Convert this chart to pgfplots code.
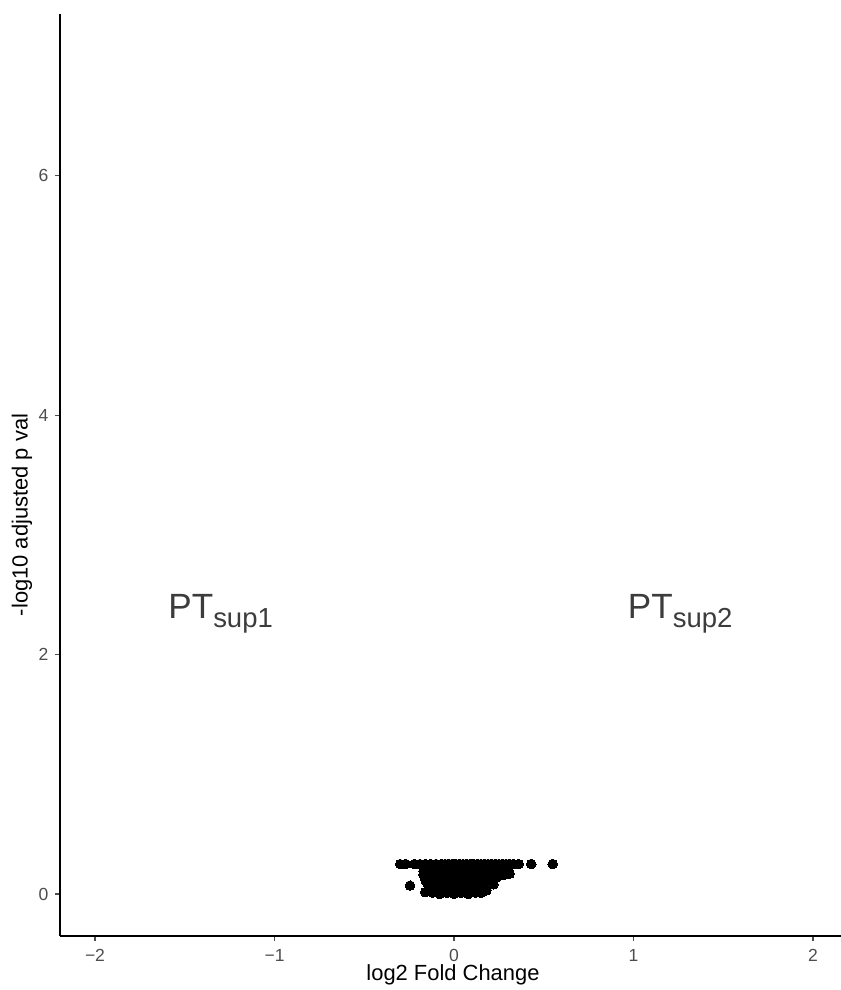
\documentclass[border=0pt]{standalone}
\usepackage{pgfplots}
\pgfplotsset{compat=1.18}
\usepackage{fontspec}
\setmainfont{Liberation Sans}
\definecolor{tickgray}{RGB}{77,77,77}
\definecolor{annogray}{RGB}{60,60,60}
\begin{document}
\begin{tikzpicture}[x=0.5bp,y=0.5bp]
\useasboundingbox (0,0) rectangle (841,990);
\begin{axis}[
  at={(30bp,27bp)}, anchor=south west,
  scale only axis, width=390.5bp, height=461bp,
  xmin=-2.195, xmax=2.156, ymin=-0.351, ymax=7.35,
  axis x line=bottom, axis y line=left,
  axis line style={line width=1bp,-},
  xtick={-2,-1,0,1,2}, xticklabels={−2,−1,0,1,2},
  ytick={0,2,4,6}, yticklabels={0,2,4,6},
  tick align=outside, major tick length=2.3bp,
  tick style={line width=0.55bp, color=tickgray},
  ticklabel style={font=\fontsize{8.8}{10}\selectfont, text=tickgray},
  xticklabel style={yshift=-1bp},
  clip=false,
]
\addplot[only marks, mark=*, mark size=2.4bp, mark options={fill=black, draw=black, line width=0pt}] coordinates {
(-0.30,0.25) (-0.27,0.25) (-0.22,0.25) (-0.19,0.25) (-0.16,0.25) (-0.13,0.25) (-0.10,0.25) (-0.07,0.25) (-0.05,0.25) (-0.03,0.25) (-0.01,0.25) (0.01,0.25) (0.03,0.25) (0.05,0.25) (0.07,0.25) (0.09,0.25) (0.11,0.25) (0.13,0.25) (0.15,0.25) (0.17,0.25) (0.19,0.25) (0.21,0.25) (0.23,0.25) (0.25,0.25) (0.27,0.25) (0.29,0.25) (0.31,0.25) (0.33,0.25) (0.36,0.25) (0.43,0.25) (0.55,0.25)
(-0.16,0.22) (-0.11,0.22) (-0.06,0.22) (-0.02,0.22) (0.04,0.22) (0.09,0.22) (0.14,0.22) (0.19,0.22) (0.25,0.22) (0.30,0.22)
(-0.17,0.19) (-0.13,0.20) (-0.09,0.19) (-0.05,0.20) (-0.01,0.19) (0.03,0.20) (0.07,0.19) (0.11,0.20) (0.15,0.19) (0.19,0.20) (0.23,0.19) (0.27,0.20)
(-0.17,0.16) (-0.13,0.16) (-0.09,0.15) (-0.05,0.16) (-0.01,0.15) (0.03,0.16) (0.07,0.15) (0.11,0.16) (0.15,0.15) (0.19,0.16) (0.24,0.15) (0.28,0.16) (0.31,0.17)
(-0.16,0.12) (-0.12,0.13) (-0.08,0.12) (-0.04,0.13) (0.00,0.12) (0.04,0.13) (0.08,0.12) (0.12,0.13) (0.16,0.12) (0.20,0.13) (0.24,0.14)
(-0.15,0.09) (-0.11,0.08) (-0.07,0.09) (-0.03,0.08) (0.01,0.09) (0.05,0.08) (0.09,0.09) (0.13,0.08) (0.17,0.09) (0.22,0.08)
(-0.14,0.05) (-0.10,0.04) (-0.06,0.05) (-0.02,0.04) (0.02,0.05) (0.06,0.04) (0.10,0.05) (0.14,0.04) (0.18,0.03)
(-0.12,0.01) (-0.08,0.00) (-0.04,0.01) (0.00,0.00) (0.04,0.01) (0.08,0.00) (0.12,0.01) (0.15,0.01)
(-0.245,0.07) (-0.16,0.015)
};
\node[font=\fontsize{17.6}{20}\selectfont, text=annogray] at (axis cs:-1.30,2.34) {PT\raisebox{-0.28em}{\fontsize{13.8}{16}\selectfont sup1}};
\node[font=\fontsize{17.6}{20}\selectfont, text=annogray] at (axis cs:1.26,2.34) {PT\raisebox{-0.28em}{\fontsize{13.8}{16}\selectfont sup2}};
\end{axis}
\node[font=\fontsize{11}{12}\selectfont] at (453,15) {log2 Fold Change};
\node[font=\fontsize{11}{12}\selectfont, rotate=90] at (22,475) {-log10 adjusted p val};
\end{tikzpicture}
\end{document}
